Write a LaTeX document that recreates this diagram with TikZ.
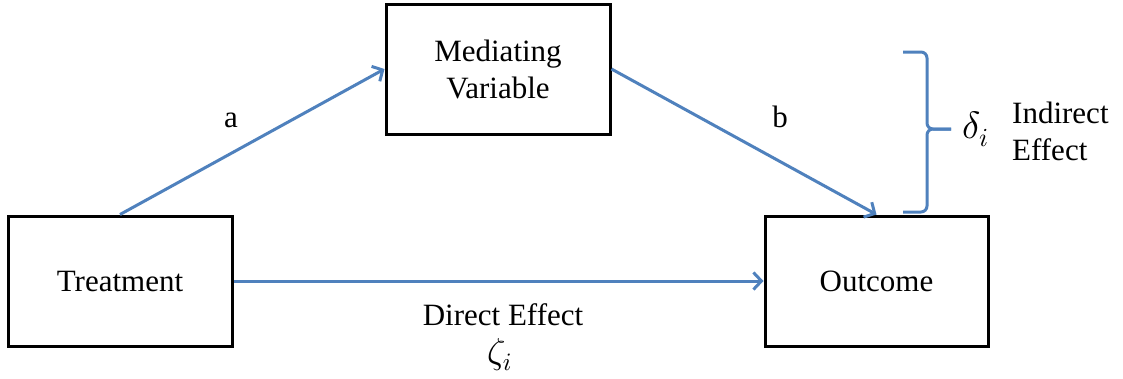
\documentclass[tikz,border=0pt]{standalone}
\usepackage{fontspec}
\setmainfont{Liberation Serif}
\DeclareFontFamily{OML}{cmm}{\skewchar\font127}
\DeclareFontShape{OML}{cmm}{m}{it}{<-> cmmi10}{}
\DeclareFontShape{OML}{cmm}{b}{it}{<-> cmmib10}{}
\DeclareMathSizes{38}{38}{26}{18}
\DeclareMathSizes{36}{36}{25}{18}
\usetikzlibrary{arrows.meta}
\definecolor{linkblue}{RGB}{79,129,189}
\tikzset{
  box/.style={draw=black, line width=3pt, minimum width=224pt, minimum height=130pt, inner sep=0pt, align=center,
    font=\fontsize{31}{37}\selectfont},
  link/.style={draw=linkblue, line width=3pt, -{Straight Barb[length=8pt,width=17pt,line width=3pt]}},
  lbl/.style={font=\fontsize{31}{37}\selectfont, inner sep=0pt},
  mathlbl/.style={inner sep=0pt},
  bracestyle/.style={draw=linkblue, line width=3pt, rounded corners=6pt}
}
\begin{document}
\begin{tikzpicture}[x=1pt,y=-1pt]
\useasboundingbox (0,0) rectangle (1123,378);
\node[box] (treat) at (120,281) {Treatment};
\node[box] (med) at (498,69) {Mediating\\Variable};
\node[box, minimum width=223pt] (out) at (876.5,281) {Outcome};

\draw[link] (treat.north) -- (med.west);
\draw[link] (med.east) -- (out.north);
\draw[link] (treat.east) -- (out.west);

\node[lbl, anchor=base] (la) at (231,127) {a};
\node[lbl, anchor=base] (lb) at (780,127) {b};

\coordinate (bt) at (903,52);
\coordinate (bb) at (903,212);
\coordinate (bm) at (927,129);
\coordinate (btip) at (951,129);
\draw[bracestyle] (bt) -| (bm) -- (btip);
\draw[bracestyle] (bb) -| (bm) -- (btip);

\node[mathlbl, font=\fontsize{38}{44}\selectfont, anchor=base west] (delta) at (962,138) {$\delta_i$};
\node[lbl, anchor=west, align=left] (ind) at (1012,131) {Indirect\\Effect};

\node[lbl, anchor=base] (direct) at (503,325) {Direct Effect};
\node[mathlbl, font=\fontsize{36}{42}\selectfont, anchor=base west] (zeta) at (487,363) {$\zeta_i$};
\end{tikzpicture}
\end{document}
